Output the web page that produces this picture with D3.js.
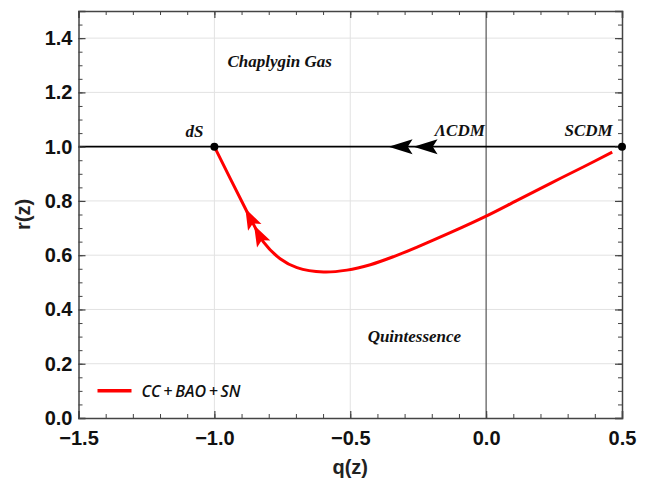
<!DOCTYPE html>
<html>
<head>
<meta charset="utf-8">
<script src="https://cdn.jsdelivr.net/npm/d3@7"></script>
<style>
  body { margin: 0; background: #fff; }
  svg { display: block; }
</style>
</head>
<body>
<div id="chart"></div>
<script>
// r(z) vs q(z) trajectory, dS -> SCDM
const curveQ = [-1.0, -0.886, -0.854, -0.819, -0.758, -0.696, -0.598, -0.512, -0.426, -0.34, -0.254, -0.132, 0.0, 0.114, 0.237, 0.359, 0.464];
const curveR = [1.0, 0.772, 0.71, 0.648, 0.587, 0.554, 0.538, 0.545, 0.565, 0.595, 0.630, 0.683, 0.744, 0.802, 0.865, 0.926, 0.98];

// fixed points
const pointQ = [-1.0, 0.5];
const pointR = [1.0, 1.0];

// arrow tips (index into curve for the red ones, q for the black ones)
const redArrowIdx = [1, 2];
const blackArrowQ = [-0.359, -0.267];

const xTicks = [-1.5, -1.0, -0.5, 0.0, 0.5];
const yTicks = [0.0, 0.2, 0.4, 0.6, 0.8, 1.0, 1.2, 1.4];
const xGrid = [-1.0, -0.5];
const yGrid = [0.2, 0.4, 0.6, 0.8, 1.2, 1.4];

const labels = [
  { text: "Chaplygin Gas", q: -0.76, r: 1.294 },
  { text: "dS", q: -1.073, r: 1.034 },
  { text: "\u039BCDM", q: -0.097, r: 1.04 },
  { text: "SCDM", q: 0.377, r: 1.04 },
  { text: "Quintessence", q: -0.264, r: 0.28 },
];

var margin = { top: 11, right: 24, bottom: 64, left: 78.5 };
var width = 646 - margin.left - margin.right;
var height = 482 - margin.top - margin.bottom;

var svg = d3
  .select("#chart")
  .append("svg")
  .attr("width", 646)
  .attr("height", 482)
  .append("g")
  .attr("transform", "translate(" + margin.left + "," + margin.top + ")");

var x = d3.scaleLinear().domain([-1.5, 0.5]).range([0, width]);
var y = d3.scaleLinear().domain([0, 1.5]).range([height, 0]);

// grid
svg.selectAll(".gx").data(xGrid).enter().append("line")
  .attr("x1", d => x(d)).attr("x2", d => x(d))
  .attr("y1", 0).attr("y2", height)
  .attr("stroke", "#e2e2e2").attr("stroke-width", 1);
svg.selectAll(".gy").data(yGrid).enter().append("line")
  .attr("x1", 0).attr("x2", width)
  .attr("y1", d => y(d)).attr("y2", d => y(d))
  .attr("stroke", "#e2e2e2").attr("stroke-width", 1);

// q = 0 axis line
svg.append("line")
  .attr("x1", x(0)).attr("x2", x(0))
  .attr("y1", 0).attr("y2", height)
  .attr("stroke", "#555").attr("stroke-width", 1.2);

// r = 1 line
svg.append("line")
  .attr("x1", x(-1.5)).attr("x2", x(0.5))
  .attr("y1", y(1)).attr("y2", y(1))
  .attr("stroke", "#000").attr("stroke-width", 1.6);

// frame + ticks (inside, all four sides)
var minorX = d3.range(-1.5, 0.51, 0.1).map(v => +v.toFixed(2));
var minorY = d3.range(0, 1.51, 0.05).map(v => +v.toFixed(2));
var axisColor = "#444";

function addAxis(axisFn, scale, major, minor, transform, labelsOn, pad) {
  var gMinor = svg.append("g").attr("transform", transform)
    .call(axisFn(scale).tickValues(minor).tickSize(-4).tickFormat(""));
  gMinor.select(".domain").remove();
  gMinor.selectAll("line").attr("stroke", axisColor).attr("stroke-width", 1);
  var g = svg.append("g").attr("transform", transform)
    .call(axisFn(scale).tickValues(major).tickSize(-7).tickPadding(pad)
      .tickFormat(labelsOn ? (d => d3.format(".1f")(d).replace("-", "\u2212")) : ""));
  g.select(".domain").attr("stroke", axisColor).attr("stroke-width", 1.5);
  g.selectAll("line").attr("stroke", axisColor).attr("stroke-width", 1.2);
  g.selectAll("text")
    .attr("fill", "#111")
    .style("font-family", "'Liberation Sans', Arial, sans-serif")
    .style("font-weight", "bold")
    .style("font-size", "20px");
  return g;
}

addAxis(d3.axisBottom, x, xTicks, minorX, "translate(0," + height + ")", true, 13);
addAxis(d3.axisTop, x, xTicks, minorX, "translate(0,0)", false, 3);
addAxis(d3.axisLeft, y, yTicks, minorY, "translate(0,0)", true, 6);
addAxis(d3.axisRight, y, yTicks, minorY, "translate(" + width + ",0)", false, 3);

// axis titles
svg.append("text")
  .attr("x", width / 2).attr("y", height + 56)
  .attr("text-anchor", "middle")
  .style("font-family", "'Liberation Sans', Arial, sans-serif")
  .style("font-weight", "bold").style("font-size", "20px")
  .attr("fill", "#222")
  .text("q(z)");
svg.append("text")
  .attr("transform", "translate(" + (-49) + "," + (height / 2) + ") rotate(-90)")
  .attr("text-anchor", "middle")
  .style("font-family", "'Liberation Sans', Arial, sans-serif")
  .style("font-weight", "bold").style("font-size", "20px")
  .attr("fill", "#222")
  .text("r(z)");

// trajectory
var pts = curveQ.map((q, i) => [q, curveR[i]]);
svg.append("path")
  .datum(pts)
  .attr("fill", "none")
  .attr("stroke", "#ff0000")
  .attr("stroke-width", 3)
  .attr("stroke-linejoin", "round")
  .attr("d", d3.line().x(d => x(d[0])).y(d => y(d[1])).curve(d3.curveCatmullRom.alpha(0.5)));

// arrowhead: tip at origin pointing in +x direction after rotation
function arrowPath(len, half) {
  return "M0,0 L" + (-len) + "," + (-half) + " L" + (-len * 0.8) + ",0 L" + (-len) + "," + half + " Z";
}

svg.selectAll(".redArrow").data(redArrowIdx).enter().append("path")
  .attr("d", arrowPath(21, 7.5))
  .attr("fill", "#ff0000")
  .attr("transform", function (i) {
    var px = x(curveQ[i]), py = y(curveR[i]);
    var ang = Math.atan2(y(curveR[i - 1]) - py, x(curveQ[i - 1]) - px) * 180 / Math.PI;
    return "translate(" + px + "," + py + ") rotate(" + ang + ")";
  });

svg.selectAll(".blackArrow").data(blackArrowQ).enter().append("path")
  .attr("d", arrowPath(24, 7.5))
  .attr("fill", "#000")
  .attr("transform", d => "translate(" + x(d) + "," + y(1) + ") rotate(180)");

// fixed points
svg.selectAll(".pt").data(pointQ).enter().append("circle")
  .attr("cx", d => x(d)).attr("cy", (d, i) => y(pointR[i]))
  .attr("r", 4).attr("fill", "#000");

// region labels
svg.selectAll(".lbl").data(labels).enter().append("text")
  .attr("x", d => x(d.q)).attr("y", d => y(d.r))
  .attr("text-anchor", "middle")
  .style("font-family", "'Liberation Serif', 'Times New Roman', serif")
  .style("font-style", "italic").style("font-weight", "bold")
  .style("font-size", "17px")
  .attr("fill", "#111")
  .text(d => d.text);

// legend
svg.append("line")
  .attr("x1", 19).attr("x2", 53)
  .attr("y1", y(0.1)).attr("y2", y(0.1))
  .attr("stroke", "#ff0000").attr("stroke-width", 3.5);
svg.append("text")
  .attr("x", 63).attr("y", y(0.1) + 6)
  .style("font-family", "'Open Sans', sans-serif")
  .style("font-style", "italic").style("font-weight", "600")
  .style("font-size", "16px")
  .attr("fill", "#111")
  .text("CC\u2009+\u2009BAO\u2009+\u2009SN");
</script>
</body>
</html>
